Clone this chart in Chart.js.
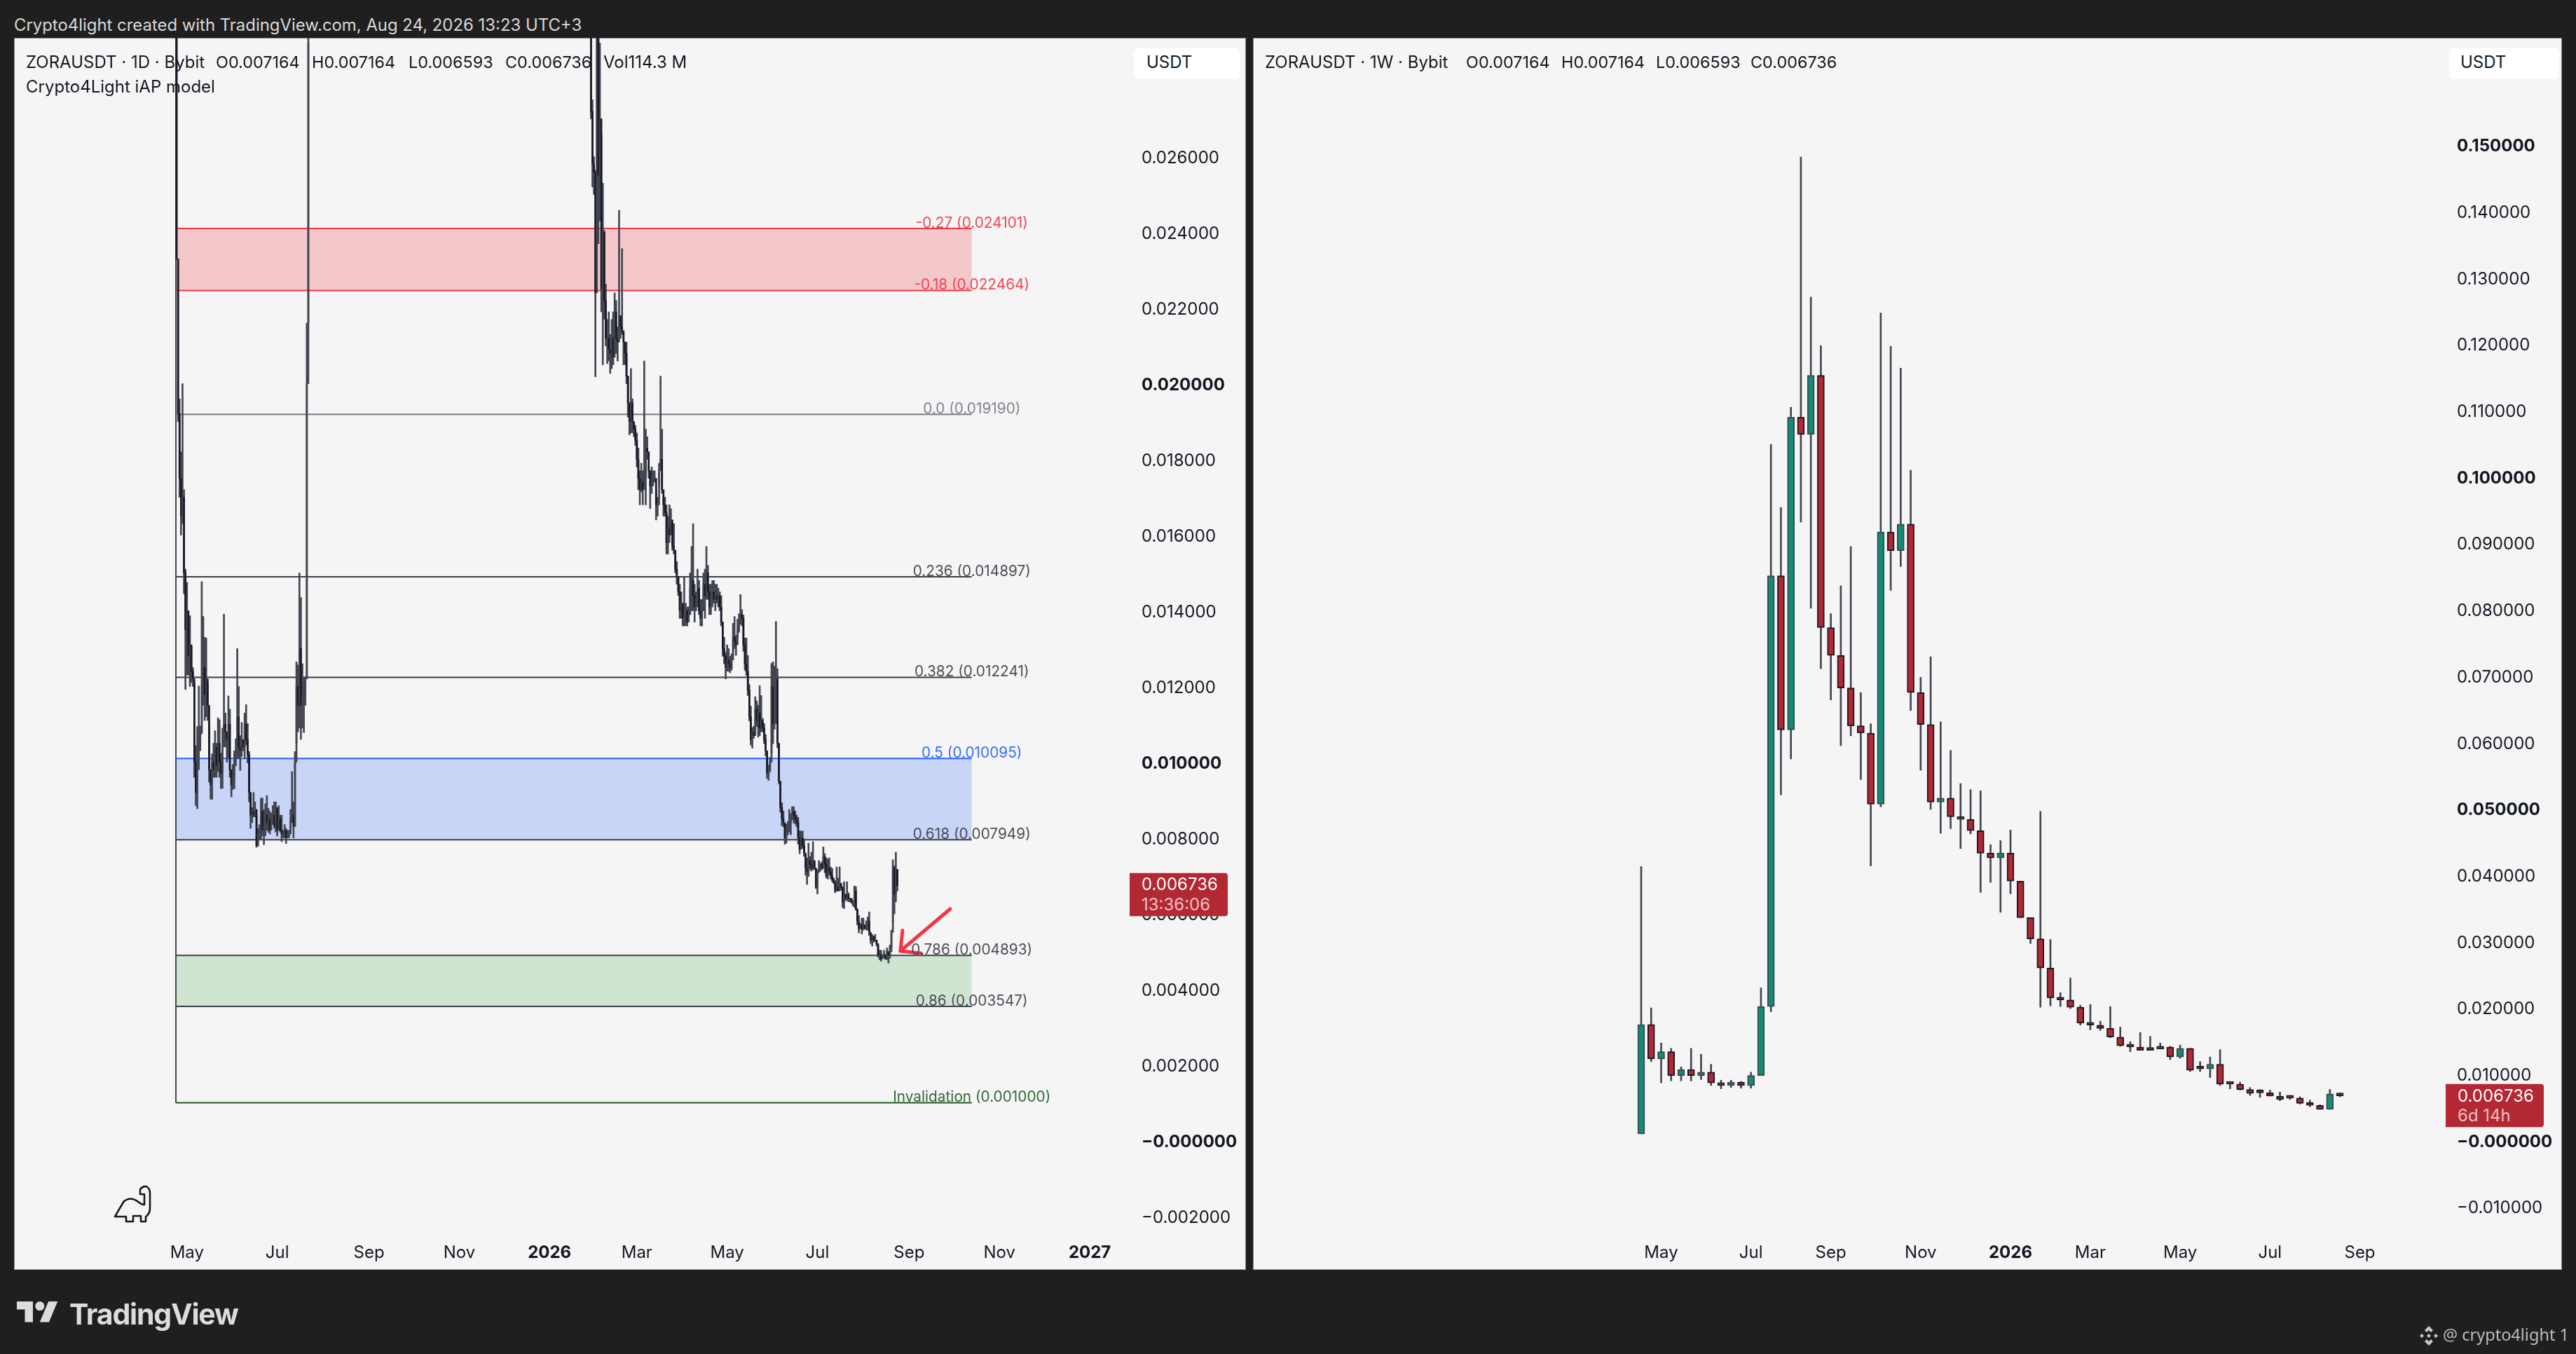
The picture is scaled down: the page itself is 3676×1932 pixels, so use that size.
<!DOCTYPE html>
<html><head><meta charset="utf-8">
<style>
html,body{margin:0;padding:0;background:#1f1f1f;width:3676px;height:1932px;overflow:hidden;font-family:Inter,sans-serif}
.panel{position:absolute;background:#f5f5f5;box-shadow:inset 0 0 0 1px #8b8b8b}
canvas{position:absolute;display:block}
.t{position:absolute;white-space:pre;line-height:1;font-size:24px;color:#131722;transform:translateY(-50%)}
.v{font-size:23.4px}
.btn{position:absolute;background:#fff;border-radius:8px}
svg{position:absolute;left:0;top:0}
</style></head><body>
<div class="panel" style="left:20px;top:54px;width:1758px;height:1758px"></div>
<div class="panel" style="left:1788px;top:54px;width:1868px;height:1758px"></div>
<canvas id="dailyChart" style="left:21px;top:54px" width="1757" height="1757"></canvas>
<canvas id="weeklyChart" style="left:1789px;top:54px" width="1867" height="1757"></canvas>
<div class="t" style="left:20px;top:36px;color:#d9d9d9;font-size:23.9px">Crypto4light created with TradingView.com, Aug 24, 2026 13:23 UTC+3</div>
<div class="t" style="left:37px;top:89px">ZORAUSDT · 1D · Bybit</div>
<div class="t v" style="left:308px;top:89px">O0.007164</div>
<div class="t v" style="left:445px;top:89px">H0.007164</div>
<div class="t v" style="left:583px;top:89px">L0.006593</div>
<div class="t v" style="left:721px;top:89px">C0.006736</div>
<div class="t" style="left:861px;top:89px">Vol114.3 M</div>
<div class="t" style="left:37px;top:124px">Crypto4Light iAP model</div>
<div class="t" style="left:1805px;top:89px">ZORAUSDT · 1W · Bybit</div>
<div class="t v" style="left:2092px;top:89px">O0.007164</div>
<div class="t v" style="left:2228px;top:89px">H0.007164</div>
<div class="t v" style="left:2363px;top:89px">L0.006593</div>
<div class="t v" style="left:2498px;top:89px">C0.006736</div>
<div class="btn" style="left:1618px;top:68px;width:151px;height:45px"></div>
<div class="btn" style="left:3495px;top:68px;width:157px;height:45px"></div>
<div class="t" style="left:1636px;top:89px">USDT</div>
<div class="t" style="left:3511px;top:89px">USDT</div>
<svg width="3676" height="1932" style="pointer-events:none">
  <path d="M164 1736 Q172 1722 177 1714 Q186 1707 196 1714 Q202 1719 206 1719 L206 1704 L200 1704 L200 1697 Q204 1692 209 1693 Q214 1696 214 1702 L214 1724 Q214 1732 208 1736 L208 1743 L201 1743 L201 1735 L190 1735 L190 1743 L180 1743 L180 1736 Z" fill="none" stroke="#131722" stroke-width="2.6" stroke-linejoin="round"/>
  <g transform="translate(24,1857) scale(1.64) translate(0,-4)" fill="#dcdcdc"><path d="M14 22H7V11H0V4h14v18zM28 22h-8l7.5-18h8L28 22z"/><circle cx="20" cy="8" r="4"/></g>
  <g fill="#c9c9c9" transform="translate(3466,1906)"><path d="M0 -14 L6 -8 L3 -5 L0 -8 L-3 -5 L-6 -8 Z"/><path d="M0 14 L6 8 L3 5 L0 8 L-3 5 L-6 8 Z"/><path d="M0 -3 L3 0 L0 3 L-3 0 Z"/><path d="M-10 -3 L-7 0 L-10 3 L-13 0 Z"/><path d="M10 -3 L13 0 L10 3 L7 0 Z"/></g>
</svg>
<div class="t" style="left:99px;top:1875px;font-size:41px;font-weight:700;color:#dcdcdc;letter-spacing:-1.2px">TradingView</div>
<div class="t" style="left:3486px;top:1905px;font-family:'Noto Sans',sans-serif;font-size:23.5px;color:#bdbdbd">@ crypto4light 1</div>
<script src="https://cdn.jsdelivr.net/npm/chart.js@4"></script>
<script>
// ---------- daily panel tick data ----------
const dailyTickValues = [-0.002,0,0.002,0.004,0.006,0.008,0.01,0.012,0.014,0.016,0.018,0.02,0.022,0.024,0.026];
const dailyTickLabels = ['−0.002000','−0.000000','0.002000','0.004000','0.006000','0.008000','0.010000','0.012000','0.014000','0.016000','0.018000','0.020000','0.022000','0.024000','0.026000'];
const dailyBoldTicks = [0,0.01,0.02];
const dailyTimeDays = [7,68,130,191,252,311,372,433,495,556,617];
const dailyTimeLabels = ['May','Jul','Sep','Nov','2026','Mar','May','Jul','Sep','Nov','2027'];
const dailyBoldTime = ['2026','2027'];

// ---------- weekly panel tick data ----------
const weeklyTickValues = [-0.01,0,0.01,0.02,0.03,0.04,0.05,0.06,0.07,0.08,0.09,0.1,0.11,0.12,0.13,0.14,0.15];
const weeklyTickLabels = ['−0.010000','−0.000000','0.010000','0.020000','0.030000','0.040000','0.050000','0.060000','0.070000','0.080000','0.090000','0.100000','0.110000','0.120000','0.130000','0.140000','0.150000'];
const weeklyBoldTicks = [0,0.05,0.1,0.15];
const weeklyTimeBars = [2,11,19,28,37,45,54,63,72];
const weeklyTimeLabels = ['May','Jul','Sep','Nov','2026','Mar','May','Jul','Sep'];
const weeklyBoldTime = ['2026'];

// ---------- fib levels ----------
const fibLabels = ['-0.27','-0.18','0.0','0.236','0.382','0.5','0.618','0.786','0.86','Invalidation'];
const fibPrices = [0.024101,0.022464,0.01919,0.014897,0.012241,0.010095,0.007949,0.004893,0.003547,0.001];
const fibPriceText = ['0.024101','0.022464','0.019190','0.014897','0.012241','0.010095','0.007949','0.004893','0.003547','0.001000'];
const fibColors = ['#f23645','#f23645','#787b86','#3d3f4a','#3d3f4a','#2962ff','#3d3f4a','#3d3f4a','#3d3f4a','#1f5c24'];
const fibFromDay = -0.47;
const fibToDay = 537.3;
const zoneTops = [0.024101,0.010095,0.004893];
const zoneBottoms = [0.022464,0.007949,0.003547];
const zoneFills = ['rgba(242,54,69,0.24)','rgba(41,98,255,0.22)','rgba(76,175,80,0.22)'];
const arrowShaftX = [522.7,489.1,490.5];
const arrowShaftY = [0.00612,0.00501,0.00555];
const arrowBarbX = [489.1,502.8];
const arrowBarbY = [0.00501,0.00495];

// ---------- daily candles, visible part before the off-scale stretch (day 0 = first bar) ----------
const earlyStartDay = 0;
const earlyFirstOpen = 0.032;
const earlyHigh = [.032,.0233,.0196,.0182,.02,.0172,.0151,.01475,.0138,.01387,.01305,.0125,.01205,.01044,.01094,.01201,.01096,.01477,.01385,.0133,.01328,.0121,.01105,.0098,.01022,.0105,.01083,.0105,.01117,.01112,.01024,.0109,.01391,.0113,.0108,.01175,.0114,.0096,.00994,.0103,.01062,.013,.012,.0107,.01105,.0105,.0113,.01152,.01102,.01028,.00915,.0088,.0092,.00895,.00858,.00825,.00835,.00905,.00905,.00875,.0089,.00912,.00878,.0087,.00865,.00885,.00895,.00895,.00845,.00885,.0086,.0086,.0082,.00835,.00825,.0082,.0082,.00875,.00975,.00895,.01028,.01265,.01257,.015,.01435,.0126,.01225,.01225,.0216,.034];
const earlyLow = [.0233,.019,.017,.016,.0163,.01445,.01192,.0123,.0123,.012,.0121,.012,.0096,.00885,.00877,.0098,.0103,.01075,.0115,.0111,.0112,.0111,.00947,.00902,.00902,.0096,.0096,.0096,.00975,.0096,.0093,.00931,.0105,.0104,.01,.0101,.0096,.00908,.00928,.0093,.0099,.0101,.0101,.00978,.01015,.0103,.0101,.01045,.00998,.00895,.00825,.0084,.00855,.00855,.00775,.00778,.00795,.00795,.00805,.00782,.00805,.0082,.00815,.0081,.00835,.00835,.00825,.00815,.00805,.0082,.00815,.0079,.008,.008,.00785,.008,.008,.00815,.0084,.008,.0083,.0105,.0108,.0109,.0106,.0109,.01078,.0115,.0122,.0216];
const earlyClose = [.0233,.0192,.0175,.0165,.017,.015,.0135,.014,.0128,.0131,.0124,.0122,.01,.0092,.01,.0106,.0108,.012,.0125,.0118,.0122,.0115,.0098,.0094,.01,.0098,.0104,.0099,.0105,.01,.0097,.0104,.011,.0108,.0106,.011,.0098,.0094,.0096,.0101,.0103,.0112,.0104,.0103,.0106,.0104,.011,.0106,.0102,.0092,.0086,.0087,.0086,.00875,.0078,.0081,.0082,.0087,.0082,.0083,.0086,.0084,.0085,.0082,.0085,.0086,.0083,.0088,.0082,.0085,.0082,.0081,.00815,.0082,.008,.0081,.0081,.0085,.0086,.0083,.01,.012,.0115,.013,.0115,.0118,.012,.0122,.02,.029];

// ---------- daily candles, second visible part ----------
const lateStartDay = 280;
const lateFirstOpen = 0.032;
const lateHigh = [.032,.0275,.026,.02564,.032,.032,.029,.0266,.0253,.02405,.02263,.0217,.0219,.0213,.0217,.0219,.0224,.0222,.0215,.02458,.0216,.02357,.02135,.0211,.0211,.0202,.0195,.0204,.0196,.019,.0189,.0187,.0183,.0177,.0179,.0177,.0206,.0188,.0186,.0179,.0174,.0178,.0177,.0177,.0172,.017,.0179,.0202,.0188,.017,.017,.0168,.0165,.0168,.0167,.0163,.0163,.0155,.0153,.0149,
.0147,.0145,.0141,.0149,.0142,.0141,.0141,.015,.0157,.0163,.0147,.0145,.0151,.0148,.0143,.0143,.015,.0151,.0157,.0152,.0147,.0147,.0148,.0148,.0147,.0147,.0146,.0145,.0144,.0137,.0133,.0129,.0131,.013,.0128,.01286,.01367,.01385,.01335,.01378,.01392,.01443,.01403,.01389,.01328,.01328,.01282,.01205,.01148,.01091,.01095,.01173,.01162,.01151,.01202,.01176,.01116,.01102,.01073,.01027,.00992,.01013,.01261,.01265,.01254,.01372,.01247,.01049,.00942,.00893,.00871,.00832,.00836,.00843,.00875,.00864,.00883,.00882,.00871,.0086,.00854,.00818,.00818,.00818,.00797,.00754,.00747,.00786,.00751,.00762,.0079,.00737,.00719,.00715,.0074,.00733,.00737,.00776,.00758,.00747,.00744,.00747,.00723,.00719,.00694,.00687,.00723,.00694,.00723,.00673,.00669,.00684,.00652,.00684,.00655,.00641,.00638,.00634,.00673,.00671,.00613,.00595,.00574,.00588,.00588,.0057,.00581,.00591,.00604,.00542,.00545,.00538,.00545,.00524,.00514,.00503,.00503,.00492,.00503,.00492,.00509,.00499,.00517,.00556,.00742,.00726,.00762,.007164];
const lateLow = [.027,.0252,.025,.02018,.0247,.0237,.0243,.0219,.0205,.0217,.021,.02053,.0206,.02027,.0204,.0205,.0214,.0208,.0206,.0214,.0212,.0213,.0205,.0205,.02,.01912,.01865,.0187,.0187,.0186,.01837,.0178,.0172,.0168,.01714,.0168,.0172,.0168,.018,.0175,.0167,.0171,.0173,.0174,.0164,.0165,.0173,.0178,.0171,.0165,.0165,.0155,.0155,.0158,.0162,.0156,.0155,.015,.0147,.0144,
.0138,.0138,.0136,.0136,.0136,.0136,.0137,.0139,.014,.014,.0137,.014,.0141,.0139,.0136,.0136,.014,.0138,.0143,.0143,.0139,.0139,.0141,.0142,.014,.0142,.0141,.014,.0136,.0128,.0126,.0122,.0124,.0124,.01236,.01243,.01282,.013,.01282,.01328,.01343,.01364,.0136,.01293,.01243,.01229,.01176,.01109,.01045,.01037,.01063,.0108,.01094,.01066,.0107,.0108,.0108,.01049,.01017,.00957,.00952,.00974,.01024,.01049,.01087,.01102,.01038,.00942,.00868,.00832,.00829,.00783,.00786,.00808,.00815,.00808,.00847,.00839,.00836,.00829,.00783,.00758,.00776,.00772,.00751,.00701,.00677,.00698,.00716,.00712,.00716,.00716,.00666,.00652,.00708,.00712,.00716,.00719,.00708,.00694,.00691,.00701,.00691,.00684,.0068,.00655,.00659,.00659,.00669,.00662,.00616,.00613,.00634,.00634,.00631,.00631,.00627,.0062,.00616,.00609,.0057,.00549,.00559,.00546,.00556,.00559,.00556,.00556,.00542,.00521,.00514,.00524,.00528,.00514,.00485,.00478,.00474,.00485,.00482,.00479,.00478,.00469,.00482,.00499,.00577,.00599,.00631,.006593];
const lateClose = [.0272,.0258,.0256,.0224,.031,.0255,.027,.0225,.024,.0222,.0212,.0212,.0209,.0208,.0212,.0207,.0219,.0212,.0211,.0218,.0215,.0214,.0211,.0208,.0202,.0195,.019,.0195,.019,.0188,.0185,.018,.0175,.0172,.0174,.0172,.0175,.0183,.0182,.0177,.0173,.0174,.0175,.0175,.0168,.0168,.0177,.018,.0172,.0168,.0166,.0158,.0162,.016,.0164,.0157,.0156,.0151,.0149,.0145,
.014,.0142,.0138,.0139,.014,.0137,.0139,.0146,.0148,.0144,.0141,.0143,.0146,.014,.0138,.014,.0147,.0144,.015,.0145,.0141,.0144,.0145,.0143,.0144,.0143,.0144,.0141,.0137,.013,.0128,.0125,.0127,.0126,.0125,.0127,.0133,.0132,.0131,.0135,.0137,.0139,.0138,.0131,.0126,.0124,.0119,.0112,.0106,.0108,.0107,.0114,.0111,.0113,.0109,.0111,.0109,.0106,.0103,.0097,.0098,.01,.012,.011,.012,.0122,.0105,.0095,.0088,.0085,.0084,.008,.0082,.0083,.0084,.0085,.0087,.0086,.0085,.0084,.008,.0077,.008,.0078,.0076,.0072,.0071,.0074,.0073,.0072,.0074,.0072,.0067,.0071,.0072,.0073,.0072,.0075,.0073,.007,.0072,.0071,.007,.0069,.0068,.0066,.0067,.0066,.0068,.0067,.0063,.0065,.0064,.0065,.0064,.0064,.0063,.0063,.0066,.0061,.0058,.0056,.0057,.0056,.0057,.0056,.0057,.0058,.0055,.0053,.0054,.0053,.0053,.0052,.0049,.0049,.0048,.0049,.0049,.0048,.005,.0049,.0051,.0055,.0072,.0065,.007164,.006736];

// ---------- weekly candles ----------
const weekOpen = [.001,.0175,.0123,.0134,.0098,.0107,.0098,.0103,.0087,.0083,.0088,.0083,.0098,.0202,.0851,.0619,.109,.1064,.1153,.0773,.0731,.0682,.0625,.0614,.0507,.0917,.0889,.0929,.0675,.0627,.051,.0516,.0488,.0484,.0467,.0433,.0426,.0433,.0391,.0336,.0304,.026,.0216,.0212,.0201,.0177,.0174,.0169,.0156,.0143,.0141,.0138,.0141,.0141,.0126,.0139,.011,.0108,.0115,.0087,.0085,.0077,.0073,.0072,.0067,.0065,.0064,.0056,.0053,.0047,.00704];
const weekHigh = [.0413,.02,.0147,.0139,.0111,.0139,.013,.0115,.0091,.0091,.0089,.0103,.023,.1049,.0954,.1105,.1482,.1271,.1198,.0794,.0836,.0895,.0675,.0628,.1247,.1197,.1164,.101,.0698,.0729,.0631,.0588,.0538,.0529,.0527,.0446,.0452,.0468,.0391,.0336,.0496,.0303,.0223,.0245,.0204,.0205,.018,.0202,.0171,.0149,.0163,.0157,.0147,.0142,.0144,.0139,.0119,.0126,.0137,.0088,.0088,.008,.0077,.0076,.0073,.0068,.0066,.0061,.0054,.0077,.00716];
const weekLow = [.001,.0119,.0087,.009,.009,.009,.0092,.0083,.0078,.008,.0079,.0079,.0098,.0194,.0521,.0575,.0932,.0802,.0711,.0664,.0595,.061,.0544,.0414,.0503,.0829,.0865,.0648,.0558,.0499,.0463,.047,.044,.0462,.0374,.0389,.0344,.0372,.0336,.0297,.0201,.0203,.0202,.0199,.0174,.0167,.0166,.0155,.0142,.0134,.0136,.0136,.0138,.0122,.0124,.0104,.0104,.0095,.0083,.0078,.0076,.0068,.0065,.0067,.006,.0062,.0055,.0051,.0047,.0047,.006593];
const weekClose = [.0175,.0123,.0134,.0098,.0107,.0098,.0103,.0087,.0083,.0088,.0083,.0098,.0202,.0851,.0619,.109,.1064,.1153,.0773,.0731,.0682,.0625,.0614,.0507,.0917,.0889,.0929,.0675,.0627,.051,.0516,.0488,.0484,.0467,.0433,.0426,.0433,.0391,.0336,.0304,.026,.0215,.0212,.0201,.0177,.0174,.0169,.0156,.0143,.0141,.0136,.0136,.0138,.0126,.0139,.0106,.0108,.0115,.0085,.0085,.0077,.0071,.0072,.0067,.0062,.0064,.0056,.0053,.0047,.00704,.006736];

const lastPrice = 0.006736;
const lastPriceText = '0.006736';
const dailyCountdown = '13:36:06';
const weeklyCountdown = '6d 14h';

// ---------- colours / styles ----------
const WICK='#434651', DARK='#191926', GREEN='#0f8d75', RED='#b22833', TEXT='#131722';
const FONT='Inter, sans-serif';
Chart.defaults.font.family=FONT;

function candlesFrom(start, firstOpen, hi, lo, cl){
  const wick=[],body=[],bodyColor=[];
  for(let i=0;i<cl.length;i++){
    const o=i===0?firstOpen:cl[i-1], c=cl[i];
    wick.push({x:start+i,y:[lo[i],hi[i]]});
    body.push({x:start+i,y:[Math.min(o,c),Math.max(o,c)]});
    bodyColor.push(c<o?DARK:WICK);
  }
  return {wick,body,bodyColor};
}
const earlySet=candlesFrom(earlyStartDay,earlyFirstOpen,earlyHigh,earlyLow,earlyClose);
const lateSet=candlesFrom(lateStartDay,lateFirstOpen,lateHigh,lateLow,lateClose);

function hLine(y,color,width,order){
  return {type:'line',data:[{x:fibFromDay,y},{x:fibToDay,y}],borderColor:color,borderWidth:width,pointRadius:0,fill:false,order};
}
const dailyDatasets=[];
zoneTops.forEach((t,i)=>dailyDatasets.push({type:'line',data:[{x:fibFromDay,y:t},{x:fibToDay,y:t}],borderWidth:0,borderColor:'transparent',pointRadius:0,backgroundColor:zoneFills[i],fill:{value:zoneBottoms[i]},order:20}));
fibPrices.forEach((p,i)=>dailyDatasets.push(hLine(p,fibColors[i],2,10)));
dailyDatasets.push({type:'line',data:[{x:fibFromDay,y:fibPrices[9]},{x:fibFromDay,y:0.03}],borderColor:WICK,borderWidth:2,pointRadius:0,fill:false,order:10});
[earlySet,lateSet].forEach(s=>{
  dailyDatasets.push({type:'bar',data:s.wick,backgroundColor:WICK,barThickness:2,grouped:false,order:5});
  dailyDatasets.push({type:'bar',data:s.body,backgroundColor:s.bodyColor,barThickness:2,grouped:false,minBarLength:2,order:4});
});
dailyDatasets.push({type:'line',data:arrowShaftX.map((x,i)=>({x,y:arrowShaftY[i]})),borderColor:'#f23645',borderWidth:5,pointRadius:0,fill:false,borderCapStyle:'round',borderJoinStyle:'round',tension:0,order:1});
dailyDatasets.push({type:'line',data:arrowBarbX.map((x,i)=>({x,y:arrowBarbY[i]})),borderColor:'#f23645',borderWidth:5,pointRadius:0,fill:false,borderCapStyle:'round',tension:0,order:1});

const weekWick=[],weekBody=[],weekFill=[],weekEdge=[];
weekClose.forEach((c,i)=>{
  const o=weekOpen[i];
  weekWick.push({x:i,y:[weekLow[i],weekHigh[i]]});
  weekBody.push({x:i,y:[Math.min(o,c),Math.max(o,c)]});
  weekFill.push(c<o?RED:GREEN);
  weekEdge.push(c<o?DARK:WICK);
});
const weeklyDatasets=[
  {type:'bar',data:weekWick,backgroundColor:WICK,barThickness:2,grouped:false,order:5},
  {type:'bar',data:weekBody,backgroundColor:weekFill,borderColor:weekEdge,borderWidth:2,borderSkipped:false,barThickness:10,grouped:false,minBarLength:4,order:4}
];

function tagPlugin(countdown,tagLeft,tagWidth,textLeft,tagTopOffset,line1Off,line2Off){
  return {id:'tag',afterDraw(chart){
    const c=chart.ctx,y=chart.scales.y.getPixelForValue(lastPrice);
    c.save();
    c.fillStyle=RED;
    c.beginPath();c.roundRect(tagLeft,y+tagTopOffset,tagWidth,61.5,[0,4,4,0]);c.fill();
    c.textBaseline='middle';c.textAlign='left';c.font='24px '+FONT;
    c.fillStyle='#ffffff';c.fillText(lastPriceText,textLeft,y+line1Off);
    c.fillStyle='#f0c2c6';c.fillText(countdown,textLeft,y+line2Off);
    c.restore();
  }};
}
const labelNudge={id:'labelNudge',beforeDraw(chart){
  chart.scales.y.getLabelItems(chart.chartArea).forEach(it=>{it.options.translation[1]+=2;});
}};
const fibLabelPlugin={id:'fibLabels',afterDatasetsDraw(chart){
  const c=chart.ctx,sx=chart.scales.x,sy=chart.scales.y;
  c.save();c.font='20.8px '+FONT;c.textAlign='center';c.textBaseline='alphabetic';c.globalAlpha=0.92;
  fibPrices.forEach((p,i)=>{
    c.fillStyle=fibColors[i];
    c.fillText(fibLabels[i]+' ('+fibPriceText[i]+')',sx.getPixelForValue(fibToDay),sy.getPixelForValue(p)-1);
  });
  c.restore();
}};

function axes(xMin,xMax,yMin,yMax,tVals,tLabels,tBold,yVals,yLabels,yBold,yW){
  const same=(a,b)=>Math.abs(a-b)<1e-9;
  return {
    x:{type:'linear',min:xMin,max:xMax,offset:false,bounds:'ticks',
      grid:{display:false,drawTicks:false},border:{display:false},
      afterBuildTicks:s=>{s.ticks=tVals.map(v=>({value:v}));},
      afterFit:s=>{s.height=41;s.paddingLeft=0;s.paddingRight=0;},
      ticks:{autoSkip:false,maxRotation:0,padding:3,color:TEXT,
        font:ctx=>({size:24,family:FONT,weight:tBold.includes(tLabels[tVals.indexOf(ctx.tick&&ctx.tick.value)])?'700':'400'}),
        callback:v=>tLabels[tVals.indexOf(v)]}},
    y:{type:'linear',position:'right',min:yMin,max:yMax,
      grid:{display:false,drawTicks:false},border:{display:false},
      afterBuildTicks:s=>{s.ticks=yVals.map(v=>({value:v}));},
      afterFit:s=>{s.width=yW;s.paddingTop=0;s.paddingBottom=0;},
      ticks:{autoSkip:false,padding:11,color:TEXT,crossAlign:'near',
        font:ctx=>({size:24,family:FONT,weight:yBold.some(b=>same(b,ctx.tick&&ctx.tick.value))?'700':'400'}),
        callback:v=>yLabels[yVals.findIndex(b=>same(b,v))]}}
  };
}
const common={responsive:false,animation:false,devicePixelRatio:1,layout:{padding:0},
  plugins:{legend:{display:false},title:{display:false},tooltip:{enabled:false}},events:[]};

new Chart(document.getElementById('dailyChart'),{type:'bar',
  data:{datasets:dailyDatasets},
  options:{...common,scales:axes(-109.375,646.8,-0.002639,0.029139,dailyTimeDays,dailyTimeLabels,dailyBoldTime,dailyTickValues,dailyTickLabels,dailyBoldTicks,160)},
  plugins:[labelNudge,fibLabelPlugin,tagPlugin(dailyCountdown,1591,140,1608,-18,-1,28)]
});
new Chart(document.getElementById('weeklyChart'),{type:'bar',
  data:{datasets:weeklyDatasets},
  options:{...common,scales:axes(-38.826,80.95,-0.01505,0.16616,weeklyTimeBars,weeklyTimeLabels,weeklyBoldTime,weeklyTickValues,weeklyTickLabels,weeklyBoldTicks,161)},
  plugins:[labelNudge,tagPlugin(weeklyCountdown,1701,140,1718,-17,1,29)]
});
</script>
</body></html>
